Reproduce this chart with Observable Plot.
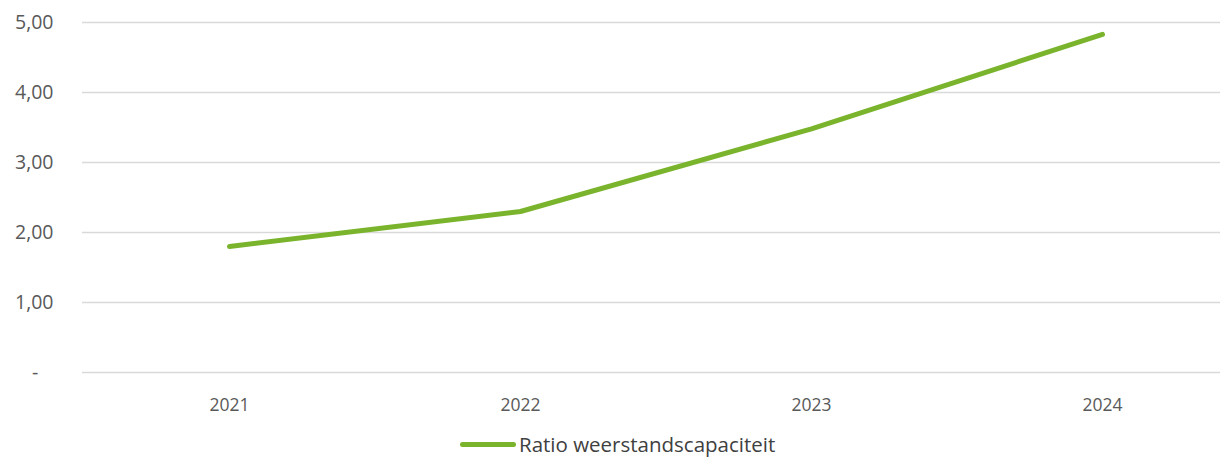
<!DOCTYPE html>
<html>
<head>
<meta charset="utf-8">
<script src="https://cdn.jsdelivr.net/npm/d3@7"></script>
<script src="https://cdn.jsdelivr.net/npm/@observablehq/plot@0.6"></script>
<style>
  html, body { margin: 0; padding: 0; background: #fff; }
  body { width: 1220px; height: 458px; overflow: hidden; font-family: "Open Sans", sans-serif; }
  #legend { position: absolute; left: 0; top: 432px; width: 1220px; height: 26px; }
  .lg { position: absolute; left: 460px; top: 0; display: flex; align-items: center; color: #404040; font-size: 20.5px; line-height: 24px; }
  .sw { width: 56px; height: 5px; border-radius: 3px; background: #7ab42d; margin-right: 3px; }
</style>
</head>
<body>
<div id="chart"></div>
<div id="legend"><div class="lg"><span class="sw"></span><span>Ratio weerstandscapaciteit</span></div></div>
<script>
const years = ["2021", "2022", "2023", "2024"];
const ratio = [1.80, 2.30, 3.48, 4.83];
const yTicks = [0, 1, 2, 3, 4, 5];
const seriesName = "Ratio weerstandscapaciteit";

const data = years.map((y, i) => ({ year: y, value: ratio[i], series: seriesName }));

const fmt = d => d === 0 ? "-\u00a0\u00a0\u00a0" : d.toFixed(2).replace(".", ",");

const plot = Plot.plot({
  width: 1220,
  height: 432,
  marginLeft: 82,
  marginRight: 0,
  marginTop: 22,
  marginBottom: 60,
  style: { fontFamily: "Open Sans, sans-serif", background: "#fff" },
  x: { type: "point", domain: years, range: [228, 1102], padding: 0 },
  y: { domain: [0, 5], range: [372, 22] },
  marks: [
    Plot.ruleY(yTicks, { stroke: "#d9d9d9", strokeWidth: 1.5 }),
    Plot.axisY(yTicks, { tickSize: 0, tickFormat: fmt, fontSize: 19.5, fill: "#595959", dx: -20, label: null }),
    Plot.axisX(years, { tickSize: 0, fontSize: 17.5, fill: "#595959", dy: 17, label: null }),
    Plot.line(data, { x: "year", y: "value", stroke: "#7ab42d", strokeWidth: 5, strokeLinecap: "round", strokeLinejoin: "round" })
  ]
});
document.getElementById("chart").appendChild(plot);
</script>
</body>
</html>
